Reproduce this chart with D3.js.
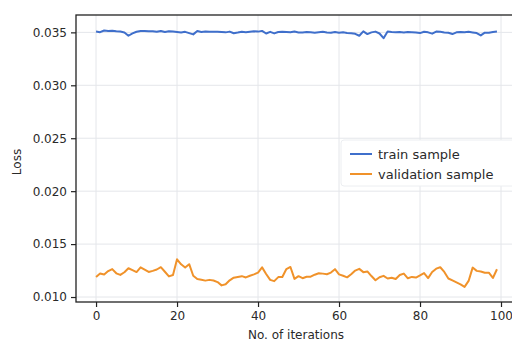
<!DOCTYPE html>
<html>
<head>
<meta charset="UTF-8">
<script src="https://cdnjs.cloudflare.com/ajax/libs/d3/7.8.5/d3.min.js"></script>
<style>
  body { margin: 0; background: #fff; }
  svg { display: block; font-family: "DejaVu Sans", sans-serif; }
</style>
</head>
<body>
<div id="chart"></div>
<script>
// loss per iteration
var trainLoss = [
  0.03508, 0.03502, 0.03518, 0.03513, 0.03516, 0.03510, 0.03508, 0.03499, 0.03468, 0.03490,
  0.03506, 0.03513, 0.03513, 0.03511, 0.03511, 0.03505, 0.03512, 0.03503, 0.03510, 0.03507,
  0.03504, 0.03499, 0.03505, 0.03493, 0.03481, 0.03513, 0.03504, 0.03507, 0.03505, 0.03505,
  0.03506, 0.03503, 0.03500, 0.03507, 0.03492, 0.03498, 0.03505, 0.03502, 0.03506, 0.03510,
  0.03507, 0.03514, 0.03489, 0.03505, 0.03490, 0.03503, 0.03506, 0.03504, 0.03501, 0.03508,
  0.03499, 0.03499, 0.03503, 0.03500, 0.03497, 0.03501, 0.03505, 0.03499, 0.03496, 0.03503,
  0.03497, 0.03500, 0.03495, 0.03492, 0.03486, 0.03468, 0.03509, 0.03484, 0.03500, 0.03507,
  0.03489, 0.03445, 0.03508, 0.03503, 0.03500, 0.03503, 0.03498, 0.03504, 0.03502, 0.03499,
  0.03493, 0.03506, 0.03500, 0.03488, 0.03507, 0.03505, 0.03499, 0.03496, 0.03484, 0.03500,
  0.03504, 0.03501, 0.03505, 0.03499, 0.03493, 0.03471, 0.03497, 0.03497, 0.03504, 0.03508
];
var validLoss = [
  0.01190, 0.01222, 0.01213, 0.01245, 0.01264, 0.01224, 0.01209, 0.01234, 0.01272, 0.01254,
  0.01236, 0.01280, 0.01258, 0.01237, 0.01247, 0.01260, 0.01282, 0.01239, 0.01195, 0.01208,
  0.01356, 0.01309, 0.01278, 0.01310, 0.01201, 0.01170, 0.01164, 0.01155, 0.01162, 0.01156,
  0.01141, 0.01110, 0.01120, 0.01158, 0.01183, 0.01190, 0.01197, 0.01185, 0.01201, 0.01214,
  0.01230, 0.01280, 0.01218, 0.01162, 0.01150, 0.01188, 0.01189, 0.01264, 0.01284, 0.01171,
  0.01197, 0.01178, 0.01191, 0.01192, 0.01211, 0.01224, 0.01221, 0.01215, 0.01231, 0.01263,
  0.01214, 0.01201, 0.01186, 0.01215, 0.01250, 0.01266, 0.01235, 0.01242, 0.01198, 0.01158,
  0.01187, 0.01200, 0.01175, 0.01182, 0.01170, 0.01208, 0.01221, 0.01177, 0.01190, 0.01184,
  0.01204, 0.01226, 0.01179, 0.01236, 0.01268, 0.01281, 0.01237, 0.01175, 0.01157, 0.01139,
  0.01120, 0.01096, 0.01152, 0.01278, 0.01247, 0.01241, 0.01229, 0.01230, 0.01180, 0.01262
];
var xTicks = [0, 20, 40, 60, 80, 100];
var yTicks = [0.010, 0.015, 0.020, 0.025, 0.030, 0.035];
var seriesNames = ["train sample", "validation sample"];
var seriesColors = ["#3f6fcb", "#f0922a"];

var width = 512, height = 343;
var plot = { left: 76, right: 517, top: 15, bottom: 302 };

var svg = d3.select("#chart").append("svg")
    .attr("width", width)
    .attr("height", height);

var x = d3.scaleLinear().domain([-4.95, 103.95]).range([plot.left, plot.right]);
var y = d3.scaleLinear().domain([0.00953, 0.03664]).range([plot.bottom, plot.top]);

// grid
svg.append("g").selectAll("line.vg")
    .data(xTicks).enter().append("line")
    .attr("x1", function (d) { return x(d); }).attr("x2", function (d) { return x(d); })
    .attr("y1", plot.top).attr("y2", plot.bottom)
    .attr("stroke", "#e4e6ea").attr("stroke-width", 1);
svg.append("g").selectAll("line.hg")
    .data(yTicks).enter().append("line")
    .attr("x1", plot.left).attr("x2", plot.right)
    .attr("y1", function (d) { return y(d); }).attr("y2", function (d) { return y(d); })
    .attr("stroke", "#e4e6ea").attr("stroke-width", 1);

// lines
var line = d3.line()
    .x(function (d, i) { return x(i); })
    .y(function (d) { return y(d); });

[trainLoss, validLoss].forEach(function (s, k) {
    svg.append("path")
        .datum(s)
        .attr("d", line)
        .attr("fill", "none")
        .attr("stroke", seriesColors[k])
        .attr("stroke-width", 2)
        .attr("stroke-linejoin", "round");
});

// axes
var xAxis = svg.append("g")
    .attr("transform", "translate(0," + plot.bottom + ")")
    .call(d3.axisBottom(x).tickValues(xTicks).tickSize(5).tickPadding(4).tickFormat(d3.format("d")));
var yAxis = svg.append("g")
    .attr("transform", "translate(" + plot.left + ",0)")
    .call(d3.axisLeft(y).tickValues(yTicks).tickSize(5).tickPadding(4).tickFormat(d3.format(".3f")));

[xAxis, yAxis].forEach(function (a) {
    a.select(".domain").remove();
    a.selectAll(".tick line").attr("stroke", "#222").attr("stroke-width", 1.2);
    a.selectAll(".tick text").attr("fill", "#2a2a2a").style("font-size", "12px")
        .style("font-family", "'DejaVu Sans', sans-serif");
});

// frame
svg.append("rect")
    .attr("x", plot.left).attr("y", plot.top)
    .attr("width", plot.right - plot.left).attr("height", plot.bottom - plot.top)
    .attr("fill", "none").attr("stroke", "#222").attr("stroke-width", 1.3);

// axis labels
svg.append("text")
    .attr("x", 296).attr("y", 339)
    .attr("text-anchor", "middle")
    .attr("fill", "#2a2a2a")
    .style("font-size", "12px")
    .text("No. of iterations");
svg.append("text")
    .attr("transform", "translate(21,162) rotate(-90)")
    .attr("text-anchor", "middle")
    .attr("fill", "#2a2a2a")
    .style("font-size", "12px")
    .text("Loss");

// legend
var legend = svg.append("g").attr("transform", "translate(341,140)");
legend.append("rect")
    .attr("width", 175).attr("height", 46).attr("rx", 3)
    .attr("fill", "#fff").attr("stroke", "#eceef1");
seriesNames.forEach(function (name, k) {
    var yy = 14 + k * 20;
    legend.append("line")
        .attr("x1", 9).attr("x2", 31)
        .attr("y1", yy).attr("y2", yy)
        .attr("stroke", seriesColors[k]).attr("stroke-width", 2);
    legend.append("text")
        .attr("x", 37).attr("y", yy + 4.5)
        .attr("fill", "#2a2a2a")
        .style("font-size", "13px")
        .text(name);
});
</script>
</body>
</html>
